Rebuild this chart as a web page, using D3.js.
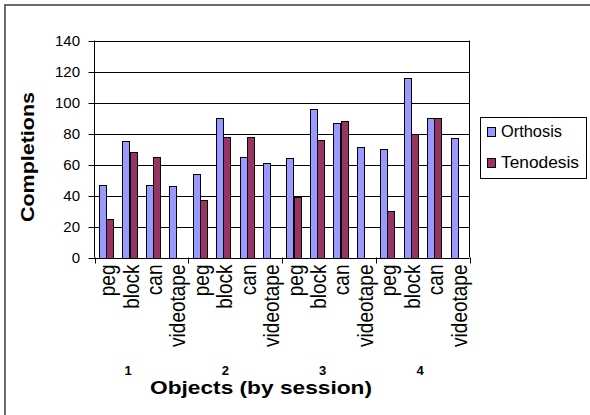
<!DOCTYPE html>
<html>
<head>
<meta charset="utf-8">
<script src="https://cdn.jsdelivr.net/npm/d3@7"></script>
<style>
  html, body { margin: 0; padding: 0; background: #fff; }
  svg { display: block; font-family: "Liberation Sans", Arial, sans-serif; }
</style>
</head>
<body>
<svg id="chart" width="590" height="415"></svg>
<script>
// ---- data ----
const sessions = ["1", "2", "3", "4"];
const objects = ["peg", "block", "can", "videotape"];
const seriesNames = ["Orthosis", "Tenodesis"];
const orthosis  = [47, 75, 47, 46,  54, 90, 65, 61,  64, 96, 87, 71,  70, 116, 90, 77];
const tenodesis = [25, 68, 65, 0,   37, 78, 78, 0,   39, 76, 88, 0,   30, 80, 90, 0];
const yTicks = [0, 20, 40, 60, 80, 100, 120, 140];
const colors = ["#9999FF", "#993366"];

const svg = d3.select("#chart");

// outer chart frame
svg.append("rect").attr("x", 5).attr("y", 5).attr("width", 640).attr("height", 460)
  .attr("fill", "#fff").attr("stroke", "#6b6b6b").attr("stroke-width", 2);

const pLeft = 94.5, pRight = 469.5, pTop = 40.5, pBottom = 257.5;

const cats = [];
sessions.forEach(s => objects.forEach(o => cats.push(s + "|" + o)));

const x = d3.scaleBand().domain(cats).range([pLeft, pRight]).padding(0);
const xs = d3.scaleBand().domain(seriesNames).range([0, x.bandwidth()]).paddingInner(0).paddingOuter(0.62);
const y = d3.scaleLinear().domain([0, 140]).range([pBottom, pTop]);

const g = svg.append("g");

// gridlines
g.selectAll("line.grid").data(yTicks.filter(t => t > 0)).join("line")
  .attr("x1", pLeft - 6).attr("x2", pRight)
  .attr("y1", d => Math.round(y(d)) + 0.5).attr("y2", d => Math.round(y(d)) + 0.5)
  .attr("stroke", "#000").attr("stroke-width", 1);

// bars
const data = [];
cats.forEach((c, i) => {
  data.push({cat: c, s: seriesNames[0], v: orthosis[i], col: colors[0]});
  data.push({cat: c, s: seriesNames[1], v: tenodesis[i], col: colors[1]});
});
g.selectAll("rect.bar").data(data.filter(d => d.v > 0)).join("rect")
  .attr("x", d => Math.round(x(d.cat) + xs(d.s)) + 0.5)
  .attr("width", d => Math.round(xs.bandwidth()))
  .attr("y", d => Math.round(y(d.v)) + 0.5)
  .attr("height", d => Math.round(y(0)) - Math.round(y(d.v)))
  .attr("fill", d => d.col).attr("stroke", "#000").attr("stroke-width", 1);

// plot border right + left axis + bottom axis
g.append("line").attr("x1", pRight).attr("x2", pRight).attr("y1", pTop).attr("y2", pBottom).attr("stroke", "#000");
g.append("line").attr("x1", pLeft).attr("x2", pLeft).attr("y1", pTop).attr("y2", pBottom).attr("stroke", "#000");
g.append("line").attr("x1", pLeft - 6).attr("x2", pRight).attr("y1", Math.round(y(0)) + 0.5).attr("y2", Math.round(y(0)) + 0.5).attr("stroke", "#000");

// y tick labels
g.selectAll("text.yt").data(yTicks).join("text")
  .attr("x", 80).attr("y", d => y(d)).attr("dy", "0.36em")
  .attr("text-anchor", "end").attr("font-size", 15).attr("fill", "#000")
  .text(d => d);

// x session ticks (group boundaries)
const groupEdges = sessions.map(s => x(s + "|" + objects[0])).concat([pRight]);
g.selectAll("line.xt").data(groupEdges).join("line")
  .attr("x1", d => Math.round(d) + 0.5).attr("x2", d => Math.round(d) + 0.5)
  .attr("y1", pBottom).attr("y2", pBottom + 6).attr("stroke", "#000");

// category labels (rotated, glyphs slightly stretched across)
g.selectAll("text.cat").data(cats).join("text")
  .attr("transform", d => `translate(${x(d) + x.bandwidth() / 2 + 1},${pBottom + 7}) rotate(-90) scale(1,1.15)`)
  .attr("dy", "0.36em").attr("text-anchor", "end")
  .attr("font-size", 19).attr("fill", "#000")
  .text(d => d.split("|")[1]);

// session labels
const sx = d3.scalePoint().domain(sessions).range([128, 420]);
g.selectAll("text.sess").data(sessions).join("text")
  .attr("x", d => sx(d)).attr("y", 375)
  .attr("text-anchor", "middle").attr("font-size", 13).attr("font-weight", "bold")
  .text(d => d);

// axis titles
svg.append("text").attr("x", 261).attr("y", 394).attr("text-anchor", "middle")
  .attr("font-size", 18).attr("font-weight", "bold")
  .attr("textLength", 222).attr("lengthAdjust", "spacingAndGlyphs")
  .text("Objects (by session)");
svg.append("text").attr("transform", "translate(34,157) rotate(-90)").attr("text-anchor", "middle")
  .attr("font-size", 18).attr("font-weight", "bold")
  .attr("textLength", 130).attr("lengthAdjust", "spacingAndGlyphs")
  .text("Completions");

// legend
const lg = svg.append("g");
lg.append("rect").attr("x", 480.5).attr("y", 117.5).attr("width", 106).attr("height", 61)
  .attr("fill", "#fff").attr("stroke", "#000");
const ly = d3.scalePoint().domain(seriesNames).range([131, 162]);
lg.selectAll("rect.sw").data(seriesNames).join("rect")
  .attr("x", 487.5).attr("y", d => ly(d) - 3.5).attr("width", 8).attr("height", 9)
  .attr("fill", (d, i) => colors[i]).attr("stroke", "#000");
lg.selectAll("text.lt").data(seriesNames).join("text")
  .attr("x", 501).attr("y", d => ly(d)).attr("dy", "0.36em")
  .attr("font-size", 16)
  .attr("textLength", (d, i) => [61, 78][i]).attr("lengthAdjust", "spacingAndGlyphs")
  .text(d => d);
</script>
</body>
</html>
